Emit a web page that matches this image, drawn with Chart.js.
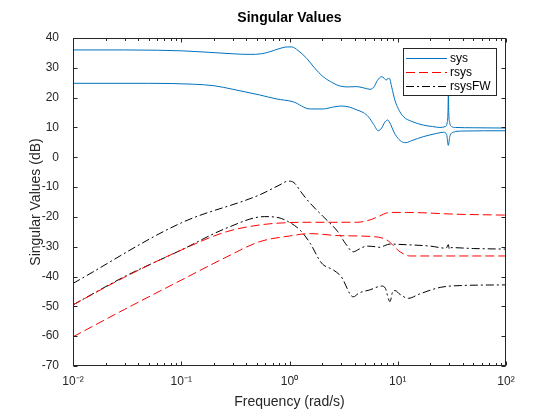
<!DOCTYPE html>
<html lang="en">
<head>
<meta charset="UTF-8">
<title>Singular Values</title>
<script src="https://cdn.jsdelivr.net/npm/chart.js@4.4.1/dist/chart.umd.min.js"></script>
<style>
  html, body { margin: 0; padding: 0; background: #fff; }
  #wrap { width: 560px; height: 420px; }
</style>
</head>
<body>
<div id="wrap"><canvas id="chart" width="560" height="420"></canvas></div>
<script>
// frequencies in rad/s, values in dB
const sysHiFreq = [0.01, 0.03, 0.06, 0.1, 0.18, 0.3, 0.43, 0.55, 0.66, 0.8, 0.95, 1.05, 1.2, 1.44, 1.7, 2.05, 2.5, 2.92, 3.5, 4.18, 4.8, 5.54, 6.0, 6.5, 7.1, 7.5, 7.8, 8.1, 8.36, 8.8, 9.4, 10.2, 11.3, 13.5, 17.2, 21, 24.5, 27.5, 28.6, 29.1, 29.35, 29.6, 30.2, 31.5, 34, 50, 100];
const sysHiDb   = [36.0, 36.0, 35.9, 35.7, 35.2, 34.7, 34.5, 34.7, 35.4, 36.4, 37.0, 37.0, 35.8, 33.2, 30.0, 27.0, 25.0, 23.9, 23.6, 23.7, 23.3, 22.8, 23.5, 25.8, 27.0, 26.5, 25.9, 26.3, 26.5, 23.5, 19.2, 16.0, 13.6, 12.0, 10.8, 10.3, 10.0, 10.3, 11.5, 15.0, 21.5, 15.0, 11.5, 10.3, 10.0, 9.9, 9.8];

const sysLoFreq = [0.01, 0.05, 0.13, 0.2, 0.3, 0.53, 0.75, 1.08, 1.55, 2.05, 2.5, 3.03, 3.6, 4.18, 4.8, 5.35, 6.0, 6.6, 7.1, 7.6, 8.07, 8.6, 9.2, 9.78, 10.8, 11.9, 13.5, 17.2, 22.9, 26.5, 28.3, 29.3, 30.3, 32.5, 40, 100];
const sysLoDb   = [24.8, 24.8, 24.5, 24.0, 22.8, 20.9, 19.6, 18.6, 16.2, 16.2, 16.8, 17.2, 16.8, 15.9, 15.0, 13.6, 11.0, 8.9, 9.8, 11.8, 12.5, 11.0, 8.5, 6.9, 5.3, 4.9, 5.6, 6.9, 8.0, 8.4, 7.6, 4.0, 7.0, 8.4, 8.8, 8.9];

const rsysHiFreq = [0.01, 0.03, 0.1, 0.26, 0.53, 1.0, 1.55, 4.18, 5.54, 6.5, 8.47, 12, 35, 100];
const rsysHiDb   = [-49.5, -40.2, -31.1, -25.0, -22.7, -21.9, -21.8, -21.8, -21.0, -20.0, -18.5, -18.5, -19.1, -19.4];

const rsysLoFreq = [0.01, 0.03, 0.1, 0.26, 0.53, 1.0, 1.55, 2.92, 5.9, 7.9, 10.5, 13, 100];
const rsysLoDb   = [-60.2, -51.0, -41.2, -33.5, -28.3, -26.4, -25.6, -26.3, -26.6, -27.7, -31.7, -33.1, -33.1];

const fwHiFreq = [0.01, 0.1, 0.53, 0.8, 0.975, 1.1, 1.3, 1.55, 2.05, 2.8, 3.3, 3.88, 4.4, 5.17, 6.2, 6.85, 7.6, 8.47, 10, 20, 28, 29.3, 30, 31, 50, 100];
const fwHiDb   = [-42.3, -22.0, -12.6, -9.4, -8.0, -8.5, -12.0, -15.4, -19.9, -25.0, -29.0, -31.7, -30.8, -29.8, -30.0, -30.2, -29.6, -29.1, -29.2, -29.8, -30.5, -29.3, -30.9, -30.3, -30.6, -30.8];

const fwLoFreq = [0.01, 0.03, 0.1, 0.26, 0.59, 0.8, 0.975, 1.25, 1.55, 1.98, 2.54, 3.0, 3.88, 4.4, 5.5, 7.1, 7.7, 8.2, 8.47, 9.0, 9.44, 10.5, 12.5, 16, 25, 40, 100];
const fwLoDb   = [-49.5, -40.0, -31.1, -23.8, -19.9, -20.3, -21.6, -24.4, -28.8, -35.5, -37.8, -40.0, -46.8, -45.5, -44.5, -43.2, -44.0, -47.5, -48.4, -45.0, -44.7, -46.0, -47.3, -45.8, -43.6, -43.0, -42.8];

const xTickValues = [0.01, 0.1, 1, 10, 100];
const xTickLabels = ['10\u207B\u00B2', '10\u207B\u00B9', '10\u2070', '10\u00B9', '10\u00B2'];
const yTickValues = [-70, -60, -50, -40, -30, -20, -10, 0, 10, 20, 30, 40];

const legendNames = ['sys', 'rsys', 'rsysFW'];

const BLUE = '#0072BD', RED = '#FF0000', BLACK = '#000000', AXIS = '#262626';
const DASH = [9, 4], DASHDOT = [8, 3, 2, 3];
const legendColors = [BLUE, RED, BLACK];
const legendDashes = [[], DASH, DASHDOT];

Chart.defaults.font.family = "'Liberation Sans', Arial, Helvetica, sans-serif";

const pts = (f, v) => f.map((x, i) => ({ x: x, y: v[i] }));

function series(label, f, v, color, dash) {
  return {
    label: label,
    data: pts(f, v),
    borderColor: color,
    borderWidth: 1,
    borderDash: dash,
    pointRadius: 0,
    fill: false,
    cubicInterpolationMode: 'monotone'
  };
}

// box, inward ticks on all four sides (MATLAB style)
const frame = {
  id: 'frame',
  afterDatasetsDraw(chart) {
    const { ctx, chartArea: a, scales: { x, y } } = chart;
    const L = Math.round(a.left) + 0.5, R = Math.round(a.right) - 0.5;
    const T = Math.round(a.top) + 0.5, B = Math.round(a.bottom) - 0.5;
    ctx.save();
    ctx.strokeStyle = AXIS;
    ctx.lineWidth = 1;
    ctx.setLineDash([]);
    ctx.strokeRect(L, T, R - L, B - T);
    ctx.beginPath();
    for (let d = -2; d <= 2; d++) {
      for (let m = 1; m <= 9; m++) {
        const v = m * Math.pow(10, d);
        if (v > 100.0001) break;
        const px = Math.round(x.getPixelForValue(v)) + 0.5;
        const len = m === 1 ? 4 : 2.5;
        ctx.moveTo(px, B); ctx.lineTo(px, B - len);
        ctx.moveTo(px, T); ctx.lineTo(px, T + len);
      }
    }
    yTickValues.forEach(v => {
      const py = Math.round(y.getPixelForValue(v)) + 0.5;
      ctx.moveTo(L, py); ctx.lineTo(L + 4, py);
      ctx.moveTo(R, py); ctx.lineTo(R - 4, py);
    });
    ctx.stroke();
    ctx.restore();
  }
};

// legend box inside the axes, top right
const boxLegend = {
  id: 'boxLegend',
  afterDraw(chart) {
    const ctx = chart.ctx;
    const x0 = 403.5, y0 = 48.5, w = 93, h = 47;
    ctx.save();
    ctx.fillStyle = '#fff';
    ctx.fillRect(x0, y0, w, h);
    ctx.strokeStyle = AXIS;
    ctx.lineWidth = 1;
    ctx.setLineDash([]);
    ctx.strokeRect(x0, y0, w, h);
    ctx.font = "12px 'Liberation Sans', Arial, sans-serif";
    ctx.textBaseline = 'middle';
    ctx.textAlign = 'left';
    legendNames.forEach((name, i) => {
      const cy = Math.round(y0 + 9.5 + i * 14.2) + 0.5;
      ctx.strokeStyle = legendColors[i];
      ctx.setLineDash(legendDashes[i]);
      ctx.beginPath();
      ctx.moveTo(406, cy);
      ctx.lineTo(447, cy);
      ctx.stroke();
      ctx.fillStyle = '#000';
      ctx.fillText(name, 450, cy);
    });
    ctx.restore();
  }
};

new Chart(document.getElementById('chart'), {
  type: 'line',
  data: {
    datasets: [
      series('sys', sysHiFreq, sysHiDb, BLUE, []),
      series('sys', sysLoFreq, sysLoDb, BLUE, []),
      series('rsys', rsysHiFreq, rsysHiDb, RED, DASH),
      series('rsys', rsysLoFreq, rsysLoDb, RED, DASH),
      series('rsysFW', fwHiFreq, fwHiDb, BLACK, DASHDOT),
      series('rsysFW', fwLoFreq, fwLoDb, BLACK, DASHDOT)
    ]
  },
  options: {
    responsive: false,
    animation: false,
    devicePixelRatio: 1,
    layout: { padding: { left: 0, right: 54, top: 0, bottom: 0 } },
    plugins: {
      legend: { display: false },
      tooltip: { enabled: false },
      title: {
        display: true,
        fullSize: false,
        text: 'Singular Values',
        color: '#000',
        font: { size: 14, weight: 'bold' },
        padding: { top: 10, bottom: 11.2 }
      }
    },
    scales: {
      x: {
        type: 'logarithmic',
        min: 0.01,
        max: 100,
        afterBuildTicks: s => { s.ticks = xTickValues.map(v => ({ value: v })); },
        afterFit: s => { s.height = 54; },
        grid: { display: false },
        border: { display: false },
        ticks: {
          color: AXIS,
          font: { size: 12 },
          padding: 0,
          maxRotation: 0,
          autoSkip: false,
          callback: (v, i) => xTickLabels[i]
        },
        title: {
          display: true,
          text: 'Frequency (rad/s)',
          color: AXIS,
          font: { size: 14 },
          padding: { top: 0, bottom: 9.6 }
        }
      },
      y: {
        type: 'linear',
        min: -70,
        max: 40,
        afterBuildTicks: s => { s.ticks = yTickValues.map(v => ({ value: v })); },
        afterFit: s => { s.width = 73; },
        grid: { display: false },
        border: { display: false },
        ticks: { color: AXIS, font: { size: 12 }, padding: 6 },
        title: {
          display: true,
          text: 'Singular Values (dB)',
          color: AXIS,
          font: { size: 14 },
          padding: { top: 28, bottom: 0 }
        }
      }
    }
  },
  plugins: [frame, boxLegend]
});
</script>
</body>
</html>
